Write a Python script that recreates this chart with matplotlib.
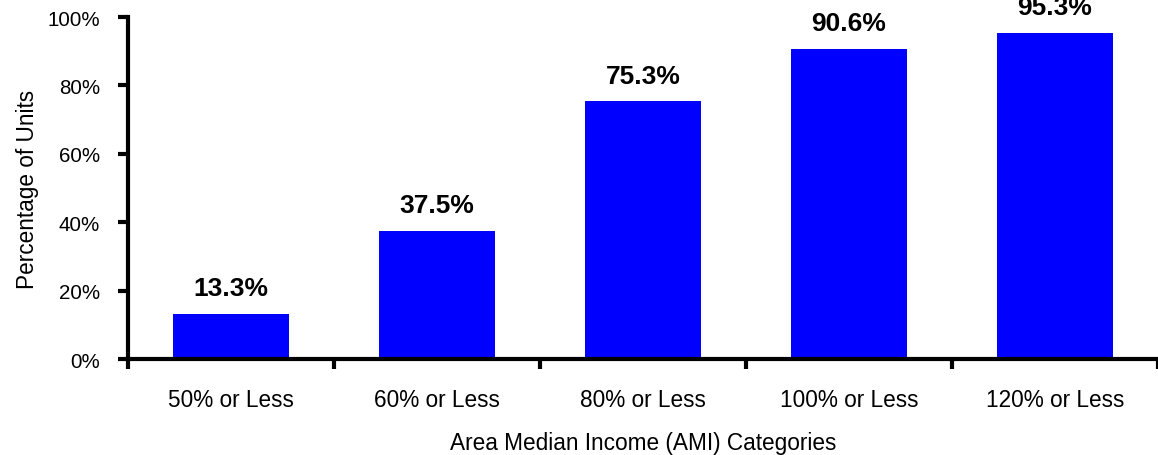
import numpy as np
import matplotlib.pyplot as plt
from matplotlib.ticker import FuncFormatter

categories = ["50% or Less", "60% or Less", "80% or Less", "100% or Less", "120% or Less"]
values = [13.3, 37.5, 75.3, 90.6, 95.3]

plt.rcParams['font.family'] = ['Liberation Sans', 'DejaVu Sans']

fig = plt.figure(figsize=(11.58, 4.56), dpi=100)
ax = fig.add_axes([0.1105, 0.2105, 0.8895, 0.75])

x = np.arange(len(categories))
bars = ax.bar(x, values, width=0.56, color="#0000FF")

for b, v in zip(bars, values):
    ax.annotate(f"{v:.1f}%", (b.get_x() + b.get_width() / 2, v),
                xytext=(0, 10), textcoords="offset points",
                ha="center", va="bottom", fontsize=19, fontweight="bold")

ax.set_xlim(-0.5, len(categories) - 0.5)
ax.set_ylim(0, 100)
ax.set_yticks(np.arange(0, 101, 20))
ax.yaxis.set_major_formatter(FuncFormatter(lambda v, p: f"{v:.0f}%"))

ax.set_xticks(x)
ax.set_xticklabels(categories)
ax.set_xticks(np.arange(-0.5, len(categories)), minor=True)
ax.tick_params(axis="x", which="major", length=0, pad=21, labelsize=16.3)
ax.tick_params(axis="x", which="minor", length=7, width=3, direction="out")
ax.tick_params(axis="y", length=7, width=3, direction="out", pad=13, labelsize=14.8)

for side in ["top", "right"]:
    ax.spines[side].set_visible(False)
for side in ["left", "bottom"]:
    ax.spines[side].set_linewidth(3)
ax.spines["bottom"].set_capstyle("butt")

ax.set_xlabel("Area Median Income (AMI) Categories", fontsize=16.3, labelpad=14)
ax.set_ylabel("Percentage of Units", fontsize=16.3, labelpad=6)

fig.savefig("out.png", dpi=100)
